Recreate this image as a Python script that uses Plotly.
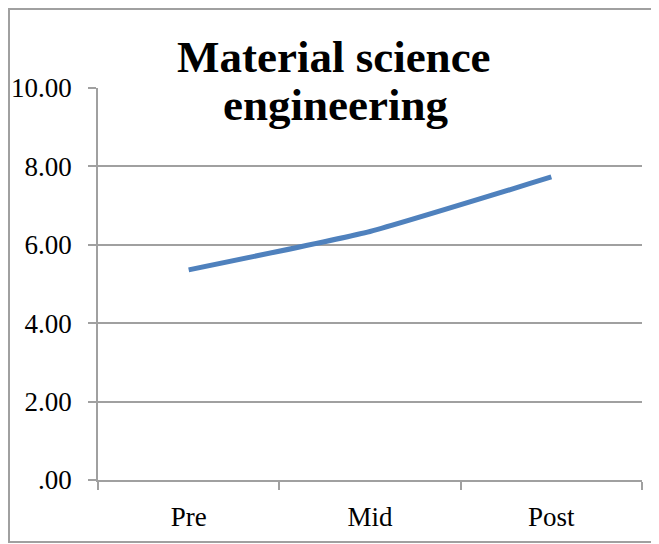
import plotly.graph_objects as go

categories = ["Pre", "Mid", "Post"]
values = [5.36, 6.34, 7.73]
y_tickvals = [0, 2, 4, 6, 8, 10]
y_ticktext = [".00", "2.00", "4.00", "6.00", "8.00", "10.00"]
title_lines = ["Material science", "engineering"]

# page is rendered with an 8px body margin; work in page pixels and offset
OFF = 8
W, H = 659 - OFF, 544 - OFF
ML = 98 - OFF
MT = 88 - OFF
MR = W - (642 - OFF)
MB = H - (480 - OFF)
pw, ph = W - ML - MR, H - MT - MB

def px_x(x):
    return (x - OFF - ML) / pw

def px_y(y):
    return (H - MB - (y - OFF)) / ph

FONT = "Liberation Serif"
GRAY = "#a0a0a0"

fig = go.Figure()
fig.add_trace(go.Scatter(
    x=categories, y=values, mode="lines",
    line=dict(color="#4F81BD", width=5, shape="spline", smoothing=0.4),
    hoverinfo="skip", showlegend=False,
))

fig.update_layout(
    width=W, height=H,
    margin=dict(l=ML, r=MR, t=MT, b=MB, autoexpand=False),
    paper_bgcolor="white", plot_bgcolor="white",
    font=dict(family=FONT, size=27, color="black"),
    showlegend=False,
    xaxis=dict(
        type="category", range=[-0.5, 2.5], tickson="boundaries", ticks="outside", ticklen=8,
        tickcolor=GRAY, tickwidth=1.5, showline=True, linecolor=GRAY, linewidth=1.5,
        showgrid=False, zeroline=False, ticklabelstandoff=12, automargin=False,
        tickfont=dict(family=FONT, size=27),
    ),
    yaxis=dict(
        range=[0, 10], tickvals=y_tickvals, ticktext=y_ticktext,
        ticks="outside", ticklen=8, tickcolor=GRAY, tickwidth=1.5,
        showline=True, linecolor=GRAY, linewidth=1.5,
        showgrid=True, gridcolor=GRAY, gridwidth=1.5, zeroline=False,
        ticklabelstandoff=11, automargin=False, tickfont=dict(family=FONT, size=27),
    ),
    shapes=[dict(
        type="rect", xref="paper", yref="paper",
        x0=px_x(OFF + 1), x1=px_x(700), y0=px_y(542), y1=px_y(OFF + 1),
        line=dict(color=GRAY, width=2), fillcolor="rgba(0,0,0,0)", layer="below",
    )],
    annotations=[
        dict(text="<b>%s</b>" % title_lines[0], xref="paper", yref="paper",
             x=px_x(334), y=px_y(72), xanchor="center", yanchor="bottom",
             showarrow=False, font=dict(family=FONT, size=45, color="black"),
             yshift=-12),
        dict(text="<b>%s</b>" % title_lines[1], xref="paper", yref="paper",
             x=px_x(335), y=px_y(120), xanchor="center", yanchor="bottom",
             showarrow=False, font=dict(family=FONT, size=45, color="black"),
             yshift=-12),
    ],
)

fig.write_html("out.html")
